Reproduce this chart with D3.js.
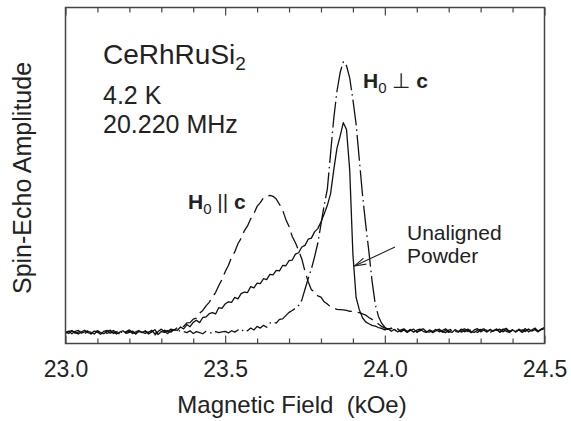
<!DOCTYPE html>
<html>
<head>
<meta charset="utf-8">
<script src="https://cdn.jsdelivr.net/npm/d3@7"></script>
<style>
  body { margin: 0; background: #fff; }
  svg { display: block; font-family: "Liberation Sans", Arial, Helvetica, sans-serif; }
</style>
</head>
<body>
<div id="chart"></div>
<script>
// field grid (kOe) shared by the three traces
const fieldKOe = [
  23.00, 23.01, 23.02, 23.03, 23.04, 23.05, 23.06, 23.07, 23.08, 23.09,
  23.10, 23.11, 23.12, 23.13, 23.14, 23.15, 23.16, 23.17, 23.18, 23.19,
  23.20, 23.21, 23.22, 23.23, 23.24, 23.25, 23.26, 23.27, 23.28, 23.29,
  23.30, 23.31, 23.32, 23.33, 23.34, 23.35, 23.36, 23.37, 23.38, 23.39,
  23.40, 23.41, 23.42, 23.43, 23.44, 23.45, 23.46, 23.47, 23.48, 23.49,
  23.50, 23.51, 23.52, 23.53, 23.54, 23.55, 23.56, 23.57, 23.58, 23.59,
  23.60, 23.61, 23.62, 23.63, 23.64, 23.65, 23.66, 23.67, 23.68, 23.69,
  23.70, 23.71, 23.72, 23.73, 23.74, 23.75, 23.76, 23.77, 23.78, 23.79,
  23.80, 23.81, 23.82, 23.83, 23.84, 23.85, 23.86, 23.87, 23.88, 23.89,
  23.90, 23.91, 23.92, 23.93, 23.94, 23.95, 23.96, 23.97, 23.98, 23.99,
  24.00, 24.01, 24.02, 24.03, 24.04, 24.05, 24.06, 24.07, 24.08, 24.09,
  24.10, 24.11, 24.12, 24.13, 24.14, 24.15, 24.16, 24.17, 24.18, 24.19,
  24.20, 24.21, 24.22, 24.23, 24.24, 24.25, 24.26, 24.27, 24.28, 24.29,
  24.30, 24.31, 24.32, 24.33, 24.34, 24.35, 24.36, 24.37, 24.38, 24.39,
  24.40, 24.41, 24.42, 24.43, 24.44, 24.45, 24.46, 24.47, 24.48, 24.49,
  24.50
];

// unaligned powder (solid)
const powderAmp = [
  0.004, -0.003, 0.007, 0.001, -0.005, 0.003, 0.009, 0.000, -0.004, 0.006,
  0.002, -0.006, 0.005, 0.008, -0.002, 0.003, -0.005, 0.002, 0.007, -0.003,
  0.001, 0.006, -0.004, 0.005, 0.000, 0.007, -0.005, 0.003, 0.011, -0.007,
  0.004, 0.001, 0.008, 0.002, 0.011, 0.008, 0.021, 0.014, 0.030, 0.022,
  0.038, 0.046, 0.037, 0.056, 0.058, 0.070, 0.074, 0.069, 0.092, 0.090,
  0.106, 0.114, 0.112, 0.130, 0.125, 0.144, 0.150, 0.148, 0.170, 0.165,
  0.183, 0.181, 0.199, 0.196, 0.215, 0.213, 0.230, 0.228, 0.248, 0.247,
  0.266, 0.268, 0.290, 0.295, 0.316, 0.322, 0.345, 0.349, 0.372, 0.384,
  0.408, 0.438, 0.470, 0.512, 0.600, 0.680, 0.725, 0.775, 0.750, 0.600,
  0.290, 0.130, 0.085, 0.055, 0.040, 0.033, 0.027, 0.024, 0.019, 0.016,
  0.010, 0.015, 0.005, 0.012, 0.003, 0.010, 0.014, 0.004, 0.011, 0.002,
  0.009, 0.013, 0.005, 0.001, 0.010, 0.004, 0.012, 0.003, 0.008, 0.014,
  0.005, 0.001, 0.011, 0.004, 0.013, 0.003, 0.009, 0.000, 0.010, 0.015,
  0.003, 0.009, 0.002, 0.012, 0.005, 0.014, 0.001, 0.010, 0.016, 0.004,
  0.011, 0.002, 0.013, 0.006, 0.015, 0.003, 0.010, 0.017, 0.005, 0.012,
  0.020
];

// H0 perpendicular to c (dash-dot)
const perpAmp = [
  0.001, 0.006, -0.004, 0.005, 0.008, -0.002, 0.003, 0.007, -0.005, 0.002,
  0.007, 0.000, -0.004, 0.005, 0.009, -0.003, 0.003, 0.008, -0.004, 0.004,
  0.010, 0.001, -0.005, 0.006, 0.002, -0.003, 0.007, 0.001, -0.009, 0.004,
  0.013, 0.003, -0.003, 0.007, 0.011, 0.002, 0.009, 0.004, 0.000, 0.007,
  -0.003, 0.004, 0.000, -0.004, 0.005, 0.001, -0.003, 0.004, 0.000, 0.003,
  0.005, -0.001, 0.007, 0.002, 0.010, 0.004, 0.013, 0.007, 0.017, 0.010,
  0.023, 0.017, 0.027, 0.020, 0.035, 0.040, 0.035, 0.049, 0.051, 0.063,
  0.075, 0.082, 0.090, 0.100, 0.120, 0.160, 0.200, 0.235, 0.280, 0.330,
  0.400, 0.470, 0.530, 0.660, 0.790, 0.890, 0.960, 1.000, 0.985, 0.940,
  0.860, 0.770, 0.640, 0.510, 0.400, 0.300, 0.190, 0.105, 0.060, 0.035,
  0.020, 0.012, 0.016, 0.006, 0.012, 0.003, 0.010, 0.001, 0.008, 0.013,
  0.002, 0.007, 0.011, 0.003, 0.009, 0.000, 0.007, 0.011, 0.002, 0.008,
  0.001, 0.010, 0.003, 0.011, 0.002, 0.008, 0.013, 0.004, 0.001, 0.009,
  0.012, 0.003, 0.010, 0.001, 0.008, 0.011, 0.004, 0.013, 0.005, 0.001,
  0.009, 0.012, 0.003, 0.010, 0.004, 0.013, 0.006, 0.011, 0.003, 0.014,
  0.008
];

// H0 parallel to c (long dash)
const parAmp = [
  -0.003, 0.004, 0.008, -0.002, 0.002, 0.007, -0.004, 0.005, 0.001, -0.005,
  0.006, 0.002, 0.007, -0.003, 0.003, 0.008, 0.000, -0.005, 0.005, 0.001,
  0.006, -0.003, 0.003, 0.008, -0.002, 0.005, 0.001, 0.009, -0.005, 0.007,
  0.002, 0.009, 0.004, 0.013, 0.009, 0.019, 0.024, 0.023, 0.036, 0.037,
  0.050, 0.054, 0.072, 0.082, 0.099, 0.112, 0.132, 0.148, 0.174, 0.196,
  0.225, 0.248, 0.278, 0.298, 0.328, 0.348, 0.376, 0.394, 0.420, 0.440,
  0.466, 0.480, 0.498, 0.500, 0.507, 0.503, 0.493, 0.474, 0.452, 0.418,
  0.392, 0.355, 0.332, 0.303, 0.272, 0.226, 0.188, 0.158, 0.152, 0.136,
  0.131, 0.114, 0.106, 0.095, 0.091, 0.086, 0.085, 0.084, 0.082, 0.079,
  0.078, 0.075, 0.074, 0.069, 0.065, 0.056, 0.049, 0.039, 0.032, 0.023,
  0.017, 0.012, 0.017, 0.007, 0.014, 0.005, 0.011, 0.003, 0.012, 0.005,
  0.001, 0.010, 0.014, 0.004, 0.002, 0.011, 0.006, 0.013, 0.004, 0.000,
  0.009, 0.013, 0.005, 0.002, 0.010, 0.014, 0.004, 0.011, 0.005, 0.001,
  0.010, 0.014, 0.005, 0.011, 0.002, 0.009, 0.013, 0.003, 0.011, 0.005,
  0.014, 0.004, 0.010, 0.001, 0.009, 0.012, 0.004, 0.013, 0.006, 0.011,
  0.015
];

const majorTicks = [23.0, 23.5, 24.0, 24.5];
const majorLabels = ['23.0', '23.5', '24.0', '24.5'];
const minorTicks = [23.1, 23.2, 23.3, 23.4, 23.6, 23.7, 23.8, 23.9, 24.1, 24.2, 24.3, 24.4];

const width = 571, height = 421;
const plotLeft = 65.5, plotRight = 544.5, plotTop = 7.5, plotBottom = 343.5;

const svg = d3.select('#chart').append('svg')
  .attr('width', width)
  .attr('height', height);

svg.append('rect').attr('width', width).attr('height', height).attr('fill', '#fff');

const x = d3.scaleLinear().domain([23.0, 24.5]).range([plotLeft, plotRight]);
const y = d3.scaleLinear().domain([-0.04, 1.2]).range([plotBottom, plotTop]);

// clip the traces to the frame
svg.append('clipPath').attr('id', 'plot-clip')
  .append('rect')
  .attr('x', plotLeft).attr('y', plotTop)
  .attr('width', plotRight - plotLeft).attr('height', plotBottom - plotTop);

const line = d3.line()
  .x(d => x(d[0]))
  .y(d => y(d[1]));

const traces = [
  { amp: powderAmp, dash: null },
  { amp: perpAmp, dash: '26,4,1.5,4' },
  { amp: parAmp, dash: '17,6' }
];

const plot = svg.append('g').attr('clip-path', 'url(#plot-clip)');

plot.selectAll('path.trace')
  .data(traces)
  .enter()
  .append('path')
  .attr('class', 'trace')
  .attr('d', t => line(fieldKOe.map((f, i) => [f, t.amp[i]])))
  .attr('fill', 'none')
  .attr('stroke', '#111')
  .attr('stroke-width', 1.3)
  .attr('stroke-linejoin', 'round')
  .attr('stroke-dasharray', t => t.dash);

// axes: inward ticks on bottom and top
const bottomMinor = svg.append('g')
  .attr('transform', `translate(0,${plotBottom})`)
  .call(d3.axisBottom(x).tickValues(minorTicks).tickSize(-5).tickFormat(''));
const bottomMajor = svg.append('g')
  .attr('transform', `translate(0,${plotBottom})`)
  .call(d3.axisBottom(x).tickValues(majorTicks).tickSize(-8).tickPadding(17)
    .tickFormat((d, i) => majorLabels[i]));
const topMinor = svg.append('g')
  .attr('transform', `translate(0,${plotTop})`)
  .call(d3.axisTop(x).tickValues(minorTicks).tickSize(-5).tickFormat(''));
const topMajor = svg.append('g')
  .attr('transform', `translate(0,${plotTop})`)
  .call(d3.axisTop(x).tickValues(majorTicks).tickSize(-8).tickFormat(''));

[bottomMinor, bottomMajor, topMinor, topMajor].forEach(g => {
  g.select('.domain').remove();
  g.selectAll('line').attr('stroke', '#444').attr('stroke-width', 1.2);
});
bottomMajor.selectAll('text')
  .attr('font-size', 23)
  .attr('font-family', '"Liberation Sans", Arial, sans-serif')
  .attr('fill', '#222');

// frame
svg.append('rect')
  .attr('x', plotLeft).attr('y', plotTop)
  .attr('width', plotRight - plotLeft).attr('height', plotBottom - plotTop)
  .attr('fill', 'none')
  .attr('stroke', '#444')
  .attr('stroke-width', 1.5);

// axis titles
svg.append('text')
  .attr('x', 292)
  .attr('y', 413)
  .attr('text-anchor', 'middle')
  .attr('font-size', 24)
  .attr('fill', '#222')
  .style('white-space', 'pre')
  .text('Magnetic Field  (kOe)');

svg.append('text')
  .attr('transform', 'translate(31,178) rotate(-90)')
  .attr('text-anchor', 'middle')
  .attr('font-size', 25)
  .attr('fill', '#222')
  .text('Spin-Echo Amplitude');

// sample annotations
const sample = svg.append('text').attr('x', 103).attr('y', 64).attr('font-size', 28).attr('fill', '#222');
sample.append('tspan').text('CeRhRuSi');
sample.append('tspan').attr('font-size', 19).attr('dy', 6).text('2');

svg.append('text').attr('x', 103).attr('y', 104).attr('font-size', 25).attr('fill', '#222').text('4.2 K');
svg.append('text').attr('x', 103).attr('y', 133).attr('font-size', 25).attr('fill', '#222').text('20.220 MHz');

// H0 labels
function fieldLabel(xp, yp, symbol) {
  const t = svg.append('text').attr('x', xp).attr('y', yp).attr('font-size', 21).attr('fill', '#222');
  t.append('tspan').attr('font-weight', 'bold').text('H');
  t.append('tspan').attr('font-size', 15).attr('dy', 5).text('0');
  t.append('tspan').attr('dy', -5).style('white-space', 'pre').text(' ' + symbol + ' ');
  t.append('tspan').attr('font-weight', 'bold').text('c');
}
fieldLabel(363, 88, '\u22A5');
fieldLabel(188, 209, '||');

svg.append('text').attr('x', 407).attr('y', 240).attr('font-size', 21).attr('fill', '#222').text('Unaligned');
svg.append('text').attr('x', 407).attr('y', 263).attr('font-size', 21).attr('fill', '#222').text('Powder');

// arrow to the powder trace
const tip = [354.5, 266], tail = [395, 247];
svg.append('line')
  .attr('x1', tail[0]).attr('y1', tail[1]).attr('x2', tip[0]).attr('y2', tip[1])
  .attr('stroke', '#222').attr('stroke-width', 1.1);
const ang = Math.atan2(tail[1] - tip[1], tail[0] - tip[0]);
const barb = 12, spread = 0.28;
svg.append('path')
  .attr('d', `M${tip[0] + barb * Math.cos(ang - spread)},${tip[1] + barb * Math.sin(ang - spread)}L${tip[0]},${tip[1]}L${tip[0] + barb * Math.cos(ang + spread)},${tip[1] + barb * Math.sin(ang + spread)}`)
  .attr('fill', 'none')
  .attr('stroke', '#222')
  .attr('stroke-width', 1.1);
</script>
</body>
</html>
